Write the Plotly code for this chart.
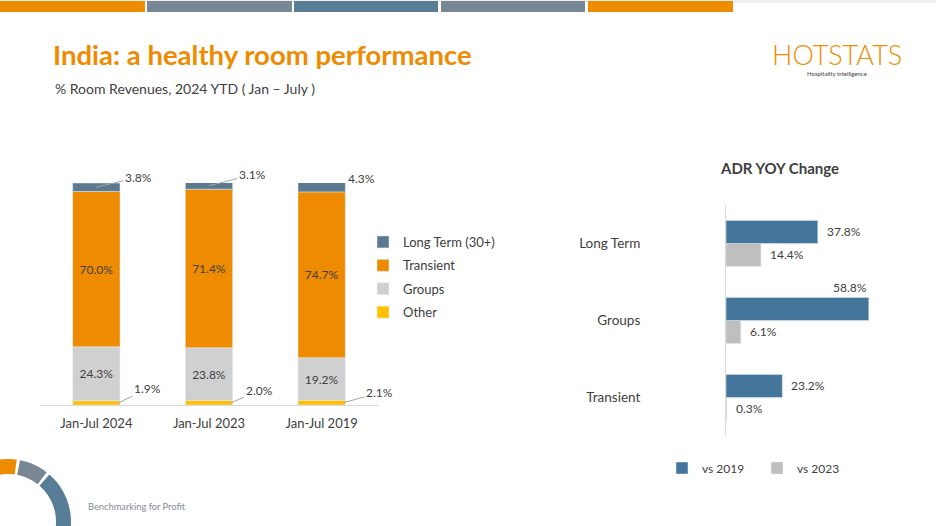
import numpy as np
import plotly.graph_objects as go

W, H = 936, 526

# ---------------- data ----------------
periods = ["Jan-Jul 2024", "Jan-Jul 2023", "Jan-Jul 2019"]
other = [1.9, 2.0, 2.1]
groups = [24.3, 23.8, 19.2]
transient = [70.0, 71.4, 74.7]
long_term = [3.8, 3.1, 4.3]

adr_cats = ["Long Term", "Groups", "Transient"]
adr_vs2019 = [37.8, 58.8, 23.2]
adr_vs2023 = [14.4, 6.1, 0.3]

# ---------------- helpers ----------------
def px(x):
    return x / W

def py(y):
    return 1 - y / H

TXT = "#404040"
FONT = "Lato"

fig = go.Figure()

# stacked bars (manual base, same offsetgroup)
stack = [("Other", other, "#FFC000", False, 4),
         ("Groups", groups, "#D1D0D0", True, 3),
         ("Transient", transient, "#EE8B00", True, 2),
         ("Long Term (30+)", long_term, "#5B7A90", False, 1)]
base = np.zeros(len(periods))
for name, vals, col, show_txt, rank in stack:
    v = np.array(vals)
    fig.add_trace(go.Bar(
        x=periods, y=v, base=base.copy(), name=name, marker_color=col, width=0.42,
        offsetgroup="L", xaxis="x", yaxis="y", legend="legend", legendgroup=name,
        legendrank=rank,
        text=[f"{a:.1f}%" for a in v] if show_txt else None,
        textposition="inside" if show_txt else "none",
        insidetextanchor="middle",
        textfont=dict(color=TXT, size=12, family=FONT),
        hoverinfo="skip"))
    base = base + v
totals = base

# leader-line annotations for small segments
lt_specs = [(0, 42, -10, True), (1, 43, -11, True), (2, 40, -9, False)]
for i, ax_, ay_, arrow in lt_specs:
    fig.add_annotation(x=periods[i], y=totals[i] - long_term[i] / 2, xref="x", yref="y",
                       text=f"{long_term[i]:.1f}%", showarrow=arrow, ax=ax_, ay=ay_,
                       arrowhead=0, arrowwidth=1, arrowcolor="#A6A6A6",
                       xshift=0 if arrow else ax_, yshift=0 if arrow else -ay_,
                       font=dict(color=TXT, size=12, family=FONT))
ot_specs = [(0, 29, -14), (1, 28, -12), (2, 36, -10)]
for i, ax_, ay_ in ot_specs:
    fig.add_annotation(x=periods[i], y=other[i] / 2, xref="x", yref="y",
                       text=f"{other[i]:.1f}%", showarrow=True, ax=ax_, ay=ay_,
                       arrowhead=0, arrowwidth=1, arrowcolor="#A6A6A6", xshift=22,
                       font=dict(color=TXT, size=12, family=FONT))

# ADR bars (gray first so blue is on top)
fig.add_trace(go.Bar(y=adr_cats, x=adr_vs2023, orientation="h", name="vs 2023",
                     marker_color="#BFBFBF", xaxis="x2", yaxis="y2", legend="legend2",
                     hoverinfo="skip"))
fig.add_trace(go.Bar(y=adr_cats, x=adr_vs2019, orientation="h", name="vs 2019",
                     marker_color="#44759A", xaxis="x2", yaxis="y2", legend="legend2",
                     hoverinfo="skip"))
for vals, shift in ((adr_vs2019, 12.5), (adr_vs2023, -10.5)):
    for c, v in zip(adr_cats, vals):
        if v == max(adr_vs2019):
            fig.add_annotation(x=v, y=c, xref="x2", yref="y2", text=f"{v:.1f}%",
                               showarrow=False, xanchor="right", yshift=33.5,
                               font=dict(color=TXT, size=12, family=FONT))
        else:
            fig.add_annotation(x=v, y=c, xref="x2", yref="y2", text=f"{v:.1f}%",
                               showarrow=False, xanchor="left", xshift=7, yshift=shift,
                               font=dict(color=TXT, size=12, family=FONT))

# ---------------- decorations ----------------
shapes = []
shapes.append(dict(type="rect", xref="paper", yref="paper", x0=0, x1=1, y0=py(3), y1=py(0),
                   fillcolor="#EFEFEF", line_width=0, layer="below"))
strip = [(0, 145, "#EE8C00"), (147, 292, "#788793"), (294, 438, "#587E97"),
         (441, 585, "#788793"), (588, 733, "#EE8C00")]
for a, b, c in strip:
    shapes.append(dict(type="rect", xref="paper", yref="paper", x0=px(a), x1=px(b),
                       y0=py(12), y1=py(1), fillcolor=c, line_width=0))

# donut arcs bottom-left
cx, cy, R, r = 8, 522, 63, 48
def arc(a0, a1, col):
    t = np.radians(np.linspace(a0, a1, 40))
    xo, yo = cx + R * np.sin(t), cy - R * np.cos(t)
    xi, yi = cx + r * np.sin(t[::-1]), cy - r * np.cos(t[::-1])
    xs = np.concatenate([xo, xi]); ys = np.concatenate([yo, yi])
    p = "M" + " L".join(f"{px(a):.5f},{py(b):.5f}" for a, b in zip(xs, ys)) + " Z"
    return dict(type="path", xref="paper", yref="paper", path=p, fillcolor=col, line_width=0)
shapes.append(arc(-60, 8, "#EE8C00"))
shapes.append(arc(11, 38, "#788793"))
shapes.append(arc(41, 130, "#587E97"))

fig.add_annotation(x=px(51), y=py(55), xref="paper", yref="paper", xanchor="left",
                   yanchor="middle", showarrow=False,
                   text="<b>India: a healthy room performance</b>",
                   font=dict(family=FONT, size=27.5, color="#EE8B00"))
fig.add_annotation(x=px(53), y=py(88), xref="paper", yref="paper", xanchor="left",
                   yanchor="middle", showarrow=False,
                   text="% Room Revenues, 2024 YTD ( Jan – July )",
                   font=dict(family=FONT, size=14, color=TXT))
fig.add_annotation(x=px(837), y=py(55), xref="paper", yref="paper", xanchor="center",
                   yanchor="middle", showarrow=False, text="HOTSTATS",
                   font=dict(family=FONT, size=27, color="#EE8C00", weight=300))
fig.add_annotation(x=px(837), y=py(73), xref="paper", yref="paper", xanchor="center",
                   yanchor="middle", showarrow=False, text="Hospitality intelligence",
                   font=dict(family=FONT, size=6, color="#404040"))
fig.add_annotation(x=px(86), y=py(506), xref="paper", yref="paper", xanchor="left",
                   yanchor="middle", showarrow=False, text="Benchmarking for Profit",
                   font=dict(family=FONT, size=9.3, color="#7F8C99"))
fig.add_annotation(x=px(779), y=py(168), xref="paper", yref="paper", xanchor="center",
                   yanchor="middle", showarrow=False, text="<b>ADR YOY Change</b>",
                   font=dict(family=FONT, size=15, color=TXT))

fig.update_layout(
    width=W, height=H, margin=dict(l=0, r=0, t=0, b=0),
    paper_bgcolor="white", plot_bgcolor="white",
    barmode="group", bargap=0.40, bargroupgap=0,
    shapes=shapes,
    font=dict(family=FONT, color=TXT, size=12),
    xaxis=dict(domain=[px(40), px(378)], range=[-0.5, 2.5], showline=True,
               linecolor="#D9D9D9", linewidth=1, showgrid=False, ticks="",
               ticklabelstandoff=6, tickfont=dict(size=13, color=TXT), fixedrange=True),
    yaxis=dict(domain=[py(405), py(183)], range=[0, 100], visible=False, fixedrange=True),
    xaxis2=dict(domain=[px(726), px(896)], range=[0, 70], anchor="y2", visible=False,
                fixedrange=True),
    yaxis2=dict(domain=[py(436), py(205)], range=[-0.5, 2.5], anchor="x2", showline=True,
                linecolor="#D9D9D9", fixedrange=True,
                categoryorder="array", categoryarray=["Transient", "Groups", "Long Term"],
                ticks="", showgrid=False, ticklabelstandoff=82,
                tickfont=dict(size=13.5, color=TXT)),
    legend=dict(x=px(363), y=py(227), xanchor="left", yanchor="top",
                traceorder="grouped",
                font=dict(size=13, color=TXT), bgcolor="rgba(0,0,0,0)", tracegroupgap=3.5),
    legend2=dict(x=px(662), y=py(468), xanchor="left", yanchor="middle", orientation="h",
                 traceorder="reversed", font=dict(size=12, color=TXT),
                 entrywidth=50, entrywidthmode="pixels", bgcolor="rgba(0,0,0,0)"),
    showlegend=True,
)

fig.write_html("out.html", config={"displayModeBar": False},
               post_script="document.body.style.margin='0';")
